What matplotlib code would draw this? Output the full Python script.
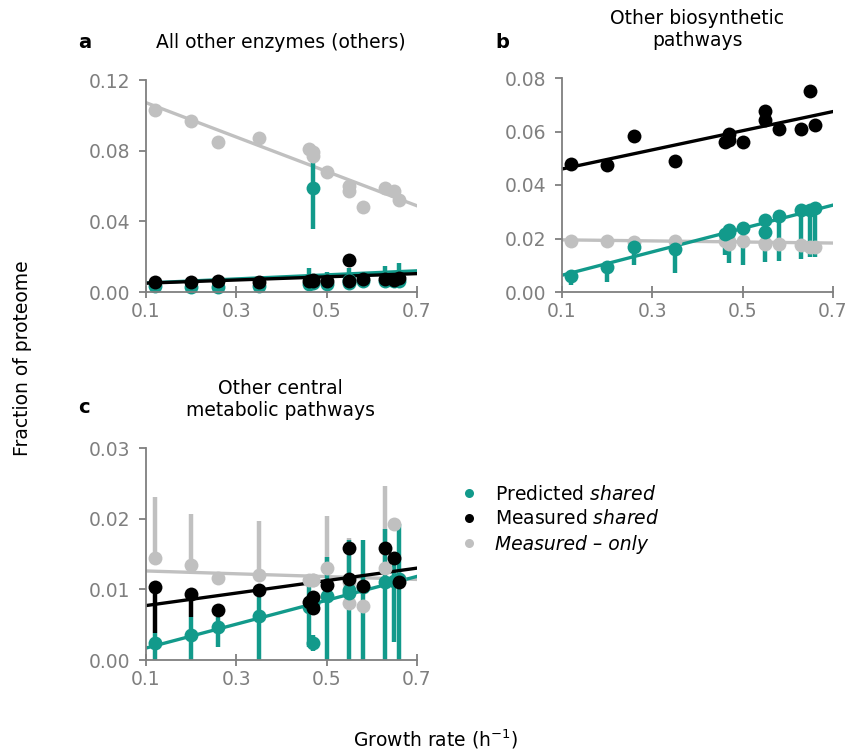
import matplotlib
matplotlib.use("Agg")
import matplotlib.pyplot as plt
import numpy as np
from matplotlib.lines import Line2D

plt.rcParams['font.family'] = ['DejaVu Sans']
plt.rcParams['mathtext.fontset'] = 'dejavusans'

# Data
growth = [0.12, 0.20, 0.26, 0.35, 0.46, 0.47, 0.47, 0.50, 0.55, 0.55, 0.58, 0.63, 0.65, 0.66]

# a: all other enzymes
a_only = [0.103, 0.097, 0.085, 0.087, 0.081, 0.077, 0.079, 0.068, 0.060, 0.057, 0.048, 0.059, 0.057, 0.052]
a_shared = [0.0055, 0.0055, 0.0064, 0.0055, 0.0064, 0.0066, 0.0062, 0.006, 0.0183, 0.006, 0.0074, 0.0074, 0.007, 0.0079]
a_pred = [0.0032, 0.003, 0.003, 0.0035, 0.0045, 0.059, 0.005, 0.0045, 0.005, 0.007, 0.006, 0.0065, 0.006, 0.0062]
a_pred_lo = [0, 0, 0, 0, 0, 0.0235, 0, 0, 0, 0, 0, 0, 0, 0]
a_pred_hi = [0, 0, 0, 0, 0.009, 0.019, 0, 0.007, 0.0086, 0, 0.005, 0.0085, 0, 0.010]

# b: other biosynthetic pathways
b_only = [0.0190, 0.0192, 0.0188, 0.0192, 0.0190, 0.0180, 0.0190, 0.0190, 0.0180, 0.0185, 0.0180, 0.0175, 0.0168, 0.0170]
b_shared = [0.0479, 0.0473, 0.0584, 0.049, 0.056, 0.059, 0.057, 0.056, 0.0678, 0.0644, 0.0609, 0.0609, 0.075, 0.0625]
b_pred = [0.0061, 0.0095, 0.0170, 0.0161, 0.0215, 0.0232, 0.0225, 0.0240, 0.0269, 0.0226, 0.0284, 0.0307, 0.0305, 0.0315]
b_pred_lo = [0.0036, 0.0057, 0.0069, 0.0091, 0.0077, 0.0125, 0, 0.0139, 0.0156, 0, 0.0167, 0.0184, 0.0173, 0.0185]
b_pred_hi = [0.0012, 0, 0.0014, 0, 0, 0, 0, 0, 0, 0, 0, 0, 0, 0]

# c: other central metabolic pathways
c_only = [0.0144, 0.0134, 0.0116, 0.0120, 0.0113, 0.0113, 0.0113, 0.0130, 0.0110, 0.0080, 0.0076, 0.0130, 0.0192, 0.0115]
c_only_hi = [0.0086, 0.0073, 0, 0.0076, 0, 0, 0, 0.0074, 0.0062, 0, 0, 0.0116, 0, 0]
c_shared = [0.0104, 0.0093, 0.0071, 0.0099, 0.0082, 0.0089, 0.0073, 0.0106, 0.0159, 0.0114, 0.0105, 0.0158, 0.0144, 0.0111]
c_shared_lo = [0.0066, 0.0032, 0, 0, 0, 0, 0, 0, 0, 0, 0, 0, 0, 0]
c_pred = [0.0024, 0.0036, 0.0046, 0.0062, 0.0075, 0.0024, 0.0080, 0.0090, 0.0099, 0.0095, 0.0103, 0.0110, 0.0112, 0.0115]
c_pred_lo = [0.0024, 0.0036, 0.0028, 0.0062, 0.0056, 0.0011, 0, 0.0090, 0.0099, 0, 0.0103, 0.0110, 0.0086, 0.0115]
c_pred_hi = [0.0014, 0.0025, 0.0015, 0.0031, 0.0032, 0.0011, 0, 0.0056, 0.0071, 0, 0.0067, 0.0075, 0.0023, 0.0077]

# fitted lines (slope, intercept)
fits = {
    'a': {'only': (-0.0973, 0.1169), 'pred': (0.0115, 0.00395), 'shared': (0.009, 0.0041)},
    'b': {'only': (-0.002, 0.0197), 'pred': (0.0437, 0.0019), 'shared': (0.0358, 0.0424)},
    'c': {'only': (-0.002, 0.0128), 'pred': (0.0169, 0.0), 'shared': (0.00883, 0.00682)},
}

teal = '#129a8b'
grey = '#c0c0c0'
black = '#000000'
axis_grey = '#7f7f7f'
fs = 13.5

fig = plt.figure(figsize=(8.47, 7.52), dpi=100)
W, H = 847, 752


def make_ax(left, top, right, bottom):
    return fig.add_axes([left / W, 1 - bottom / H, (right - left) / W, (bottom - top) / H])


def series(ax, y, lo, hi, color, fit):
    x = np.array(growth)
    y = np.array(y)
    lo = np.zeros_like(y) if lo is None else np.array(lo)
    hi = np.zeros_like(y) if hi is None else np.array(hi)
    ax.errorbar(x, y, yerr=[lo, hi], fmt='o', color=color, ms=10, elinewidth=3.2,
                capsize=0, mew=0, clip_on=False)
    xx = np.array([0.1, 0.7])
    ax.plot(xx, fit[0] * xx + fit[1], color=color, lw=2.4)


def style(ax, ymax, yticks):
    ax.set_xlim(0.1, 0.7)
    ax.set_ylim(0, ymax)
    ax.set_xticks([0.1, 0.3, 0.5, 0.7])
    ax.set_xticklabels(['0.1', '0.3', '0.5', '0.7'])
    ax.set_yticks(yticks)
    ax.set_yticklabels([f'{t:.2f}' for t in yticks])
    for s in ['top', 'right']:
        ax.spines[s].set_visible(False)
    for s in ['left', 'bottom']:
        ax.spines[s].set_color(axis_grey)
        ax.spines[s].set_linewidth(1.3)
    ax.tick_params(axis='x', direction='inout', length=8, width=1.3, color=axis_grey,
                   labelcolor=axis_grey, labelsize=fs, pad=3)
    ax.tick_params(axis='y', direction='out', length=5, width=1.3, color=axis_grey,
                   labelcolor=axis_grey, labelsize=fs, pad=6)


panels = [
    ('a', make_ax(146, 80, 417, 292), 0.12, [0, 0.04, 0.08, 0.12],
     (a_only, None, None), (a_pred, a_pred_lo, a_pred_hi), (a_shared, None, None)),
    ('b', make_ax(562, 78, 833, 292), 0.08, [0, 0.02, 0.04, 0.06, 0.08],
     (b_only, None, None), (b_pred, b_pred_lo, b_pred_hi), (b_shared, None, None)),
    ('c', make_ax(146, 448, 417, 660), 0.03, [0, 0.01, 0.02, 0.03],
     (c_only, None, c_only_hi), (c_pred, c_pred_lo, c_pred_hi), (c_shared, c_shared_lo, None)),
]

for key, ax, ymax, yt, only, pred, shared in panels:
    series(ax, *only, grey, fits[key]['only'])
    series(ax, *pred, teal, fits[key]['pred'])
    series(ax, *shared, black, fits[key]['shared'])
    style(ax, ymax, yt)

# titles and panel letters
fig.text(281 / W, 1 - 42 / H, 'All other enzymes (others)', ha='center', va='center', fontsize=fs)
fig.text(697 / W, 1 - 30 / H, 'Other biosynthetic\npathways', ha='center', va='center',
         fontsize=fs, linespacing=1.2)
fig.text(280 / W, 1 - 400 / H, 'Other central\nmetabolic pathways', ha='center', va='center',
         fontsize=fs, linespacing=1.2)
fig.text(78 / W, 1 - 42 / H, 'a', fontsize=14, fontweight='bold', ha='left', va='center')
fig.text(495 / W, 1 - 42 / H, 'b', fontsize=14, fontweight='bold', ha='left', va='center')
fig.text(78 / W, 1 - 408 / H, 'c', fontsize=14, fontweight='bold', ha='left', va='center')

fig.text(22 / W, 1 - 358 / H, 'Fraction of proteome', rotation=90, ha='center', va='center', fontsize=fs)
fig.text(436 / W, 1 - 739 / H, 'Growth rate (h$^{-1}$)', ha='center', va='center', fontsize=fs)

# legend
handles = [
    Line2D([], [], marker='o', ls='', color=teal, ms=6.5, mew=0),
    Line2D([], [], marker='o', ls='', color=black, ms=6.5, mew=0),
    Line2D([], [], marker='o', ls='', color=grey, ms=6.5, mew=0),
]
labels = [r'Predicted $\it{shared}$', r'Measured $\it{shared}$', 'Measured \u2013 only']
leg = fig.legend(handles, labels, loc='upper left', bbox_to_anchor=(452 / W, 1 - 477 / H),
                 frameon=False, fontsize=fs, handletextpad=0.9, labelspacing=0.32,
                 handlelength=1.0, borderaxespad=0)
leg.get_texts()[2].set_fontstyle('italic')

fig.savefig('out.png', dpi=100)
